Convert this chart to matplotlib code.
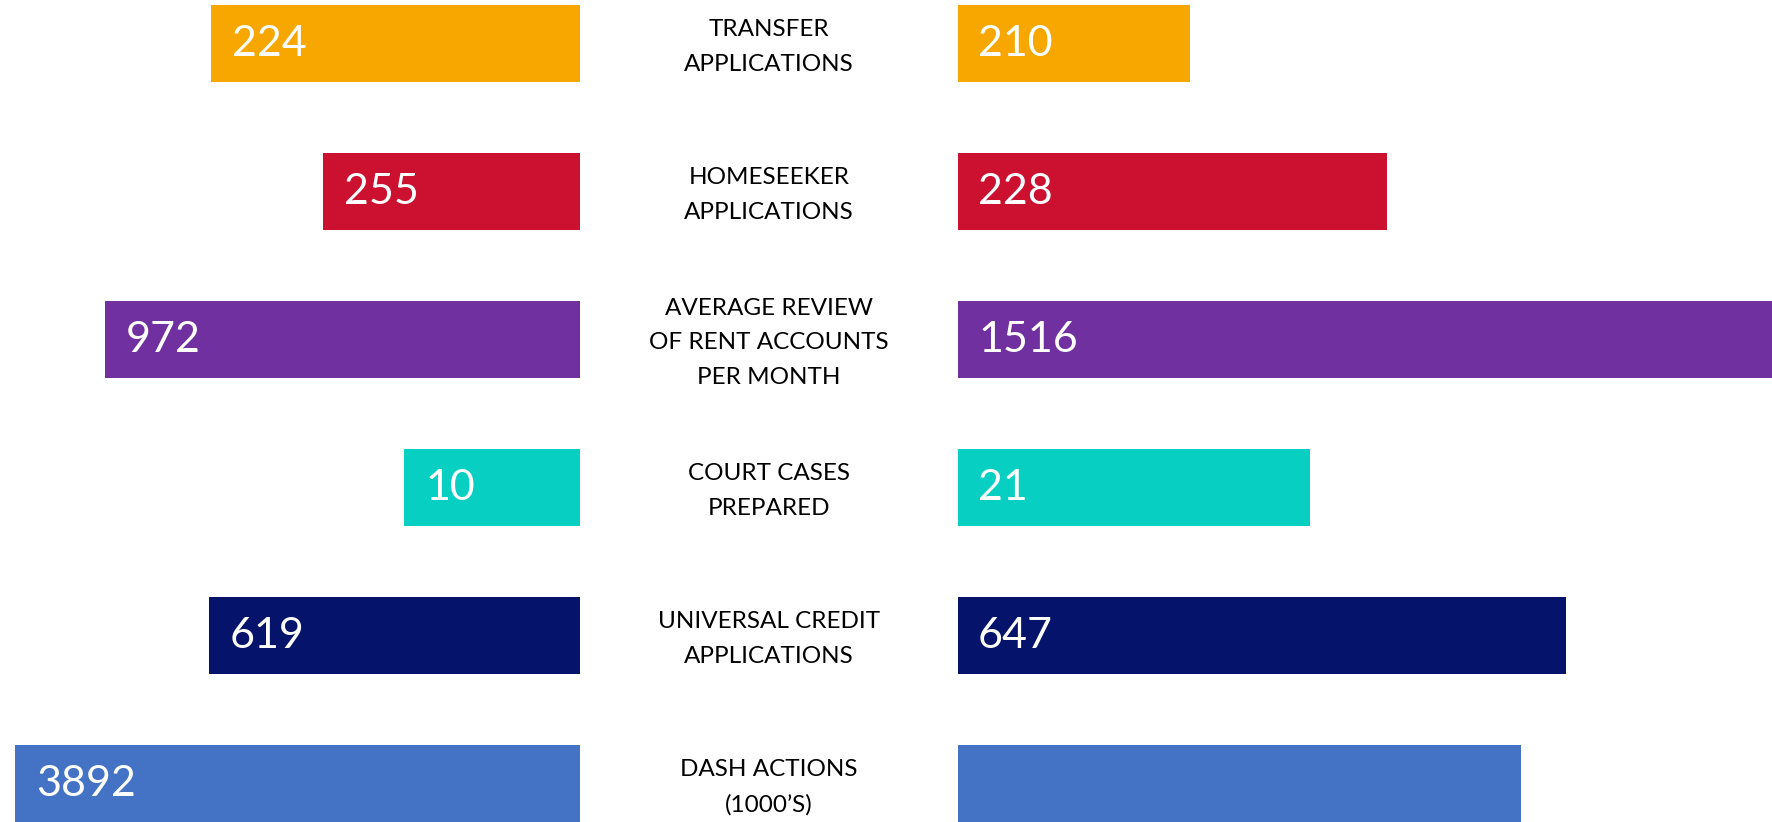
import matplotlib.pyplot as plt

# categories (top to bottom)
categories = [
    'TRANSFER\nAPPLICATIONS',
    'HOMESEEKER\nAPPLICATIONS',
    'AVERAGE REVIEW\nOF RENT ACCOUNTS\nPER MONTH',
    'COURT CASES\nPREPARED',
    'UNIVERSAL CREDIT\nAPPLICATIONS',
    'DASH ACTIONS\n(1000\u2019S)',
]

# values shown on the bars (previous period on the left, current on the right)
left_values = ['224', '255', '972', '10', '619', '3892']
right_values = ['210', '228', '1516', '21', '647', '']

# bar lengths as drawn in the graphic (not proportional to the values)
left_lengths = [369, 257, 475, 176, 371, 565]
right_lengths = [232, 429, 830, 352, 608, 563]

colors = ['#F8A700', '#CC1030', '#7030A0', '#07D0C3', '#05146A', '#4472C4']

left_end = 580
right_start = 958
mid = (left_end + right_start) / 2
rows = list(range(len(categories)))

fig = plt.figure(figsize=(17.72, 8.22), dpi=100)
ax = fig.add_axes([0, 0, 1, 1])

ax.barh(rows, left_lengths, left=[left_end - w for w in left_lengths],
        height=0.52, color=colors)
ax.barh(rows, right_lengths, left=right_start, height=0.52, color=colors)

for i in rows:
    ax.text(left_end - left_lengths[i] + 21, i, left_values[i], color='white',
            fontsize=31, family=['Lato', 'DejaVu Sans'], va='center', ha='left')
    if right_values[i]:
        ax.text(right_start + 20, i, right_values[i], color='white',
                fontsize=31, family=['Lato', 'DejaVu Sans'], va='center', ha='left')
    ax.text(mid, i + 0.02, categories[i], color='black', fontsize=17.5,
            family=['Lato', 'DejaVu Sans'],
            ha='center', va='center', linespacing=1.8)

ax.set_xlim(0, 1772)
ax.set_ylim(5.257, -0.297)
ax.set_axis_off()

fig.savefig('out.png', dpi=100, facecolor='white')
